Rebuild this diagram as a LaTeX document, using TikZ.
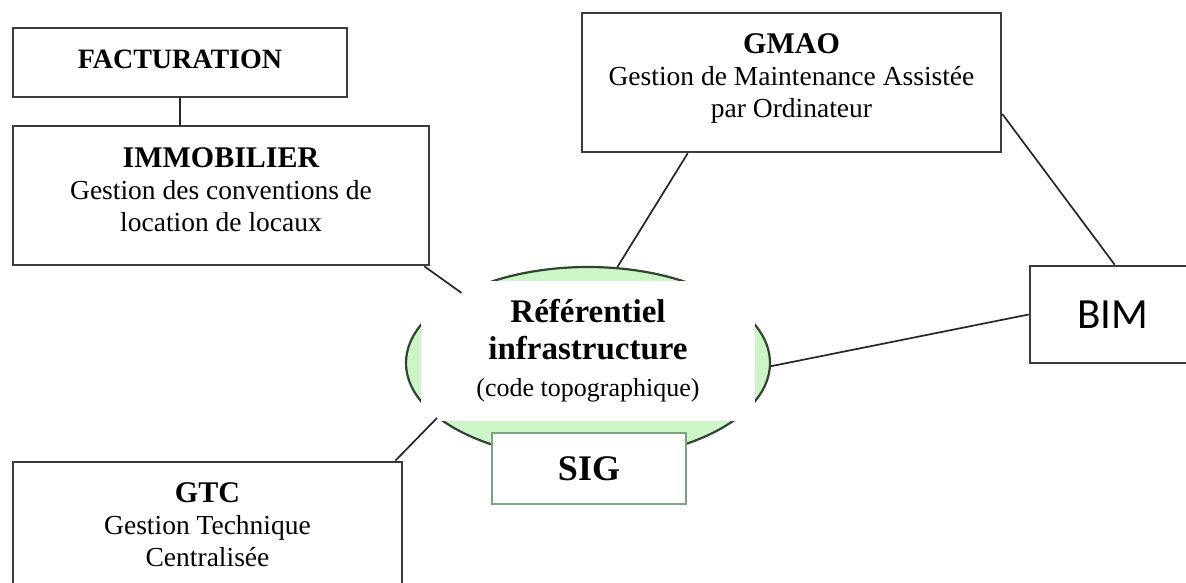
\documentclass[tikz,border=0pt]{standalone}
\usepackage{fontspec}
\setmainfont{Liberation Serif}
\newfontfamily\bimfont{Carlito}
\usetikzlibrary{shapes.geometric,calc}
\definecolor{refgreen}{RGB}{205,245,200}
\definecolor{refline}{RGB}{45,70,45}
\definecolor{siggreen}{RGB}{120,165,125}
\definecolor{boxline}{RGB}{60,60,60}
\newcommand\boxtitle[1]{{\fontsize{30}{33}\selectfont\bfseries #1}}
\begin{document}
\begin{tikzpicture}[x=1pt,y=-1pt,
  box/.style={rectangle, draw=boxline, line width=2.6pt, fill=white, inner sep=0pt,
              align=center, font=\fontsize{27.5}{32}\selectfont},
  link/.style={draw=black!85, line width=1.7pt},
  refshape/.style={ellipse, draw=refline, fill=refgreen, line width=2.2pt, inner sep=0pt,
                   minimum width=364pt, minimum height=192pt},
  reftext/.style={rectangle, fill=white, inner sep=0pt, align=center,
                  minimum width=334pt, minimum height=140pt,
                  font=\fontsize{33}{37}\selectfont\bfseries}]
\useasboundingbox (0,0) rectangle (1186,582);
\clip (0,0) rectangle (1186,582);

% central reference: green ellipse partly masked by its white text panel
\node[refshape] (ref) at (588,363) {};
\node[reftext] (reflabel) at (588,351)
  {Référentiel\\ infrastructure\\
   \fontsize{26}{37}\selectfont\mdseries (code topographique)};
\node[box, draw=siggreen, minimum width=194pt, minimum height=71pt,
      font=\fontsize{36}{40}\selectfont\bfseries] (sig) at (589,468.5) {SIG};

% surrounding applications
\node[box, minimum width=334pt, minimum height=69pt, text depth=7pt] (fact) at (180,62.5)
  {{\fontsize{28}{31}\selectfont\bfseries FACTURATION}};
\node[box, minimum width=416pt, minimum height=139pt, text depth=12pt] (immo) at (221,195.5)
  {\boxtitle{IMMOBILIER}\\Gestion des conventions de\\location de locaux};
\node[box, minimum width=419pt, minimum height=139pt, text depth=14pt] (gmao) at (791.5,82.5)
  {\boxtitle{GMAO}\\Gestion de Maintenance Assistée\\par Ordinateur};
\node[box, minimum width=389pt, minimum height=126pt] (gtc) at (207.5,525)
  {\boxtitle{GTC}\\Gestion Technique\\Centralisée};
\node[box, minimum width=166pt, minimum height=97pt, font=\bimfont\fontsize{43}{46}\selectfont]
  (bim) at (1113,314.5) {BIM};

% links
\draw[link] (fact.south) -- (fact.south |- immo.north);
\draw[link] ([xshift=-6pt]immo.south east) -- (ref.151);
\draw[link] ([xshift=107pt]gmao.south west) -- (ref.73);
\draw[link] ([yshift=-31.5pt]gmao.east) -- ([xshift=86pt]bim.north west);
\draw[link] (bim.west) -- (ref.-1);
\draw[link] ([xshift=-8pt]gtc.north east) -- (ref.200);
\end{tikzpicture}
\end{document}
